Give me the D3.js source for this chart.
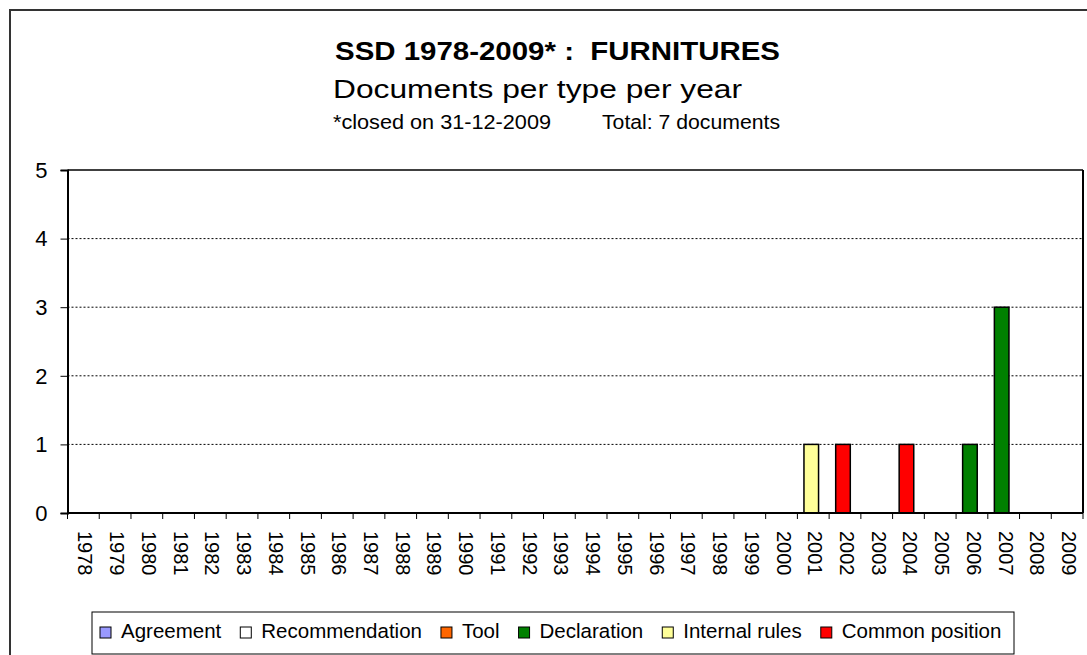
<!DOCTYPE html>
<html>
<head>
<meta charset="utf-8">
<script src="https://cdn.jsdelivr.net/npm/d3@7"></script>
<style>
  html, body { margin: 0; padding: 0; background: #fff; }
  svg { display: block; font-family: "Liberation Sans", Arial, sans-serif; }
  .pre { white-space: pre; }
</style>
</head>
<body>
<svg id="chart" width="1087" height="655"></svg>
<script>
// ---- data ----
const years = ["1978","1979","1980","1981","1982","1983","1984","1985","1986","1987","1988","1989","1990","1991","1992","1993","1994","1995","1996","1997","1998","1999","2000","2001","2002","2003","2004","2005","2006","2007","2008","2009"];
const seriesNames = ["Agreement","Recommendation","Tool","Declaration","Internal rules","Common position"];
const seriesColors = ["#9999FF","#FFFFFF","#FF6600","#008000","#FFFF99","#FF0000"];
const agreement      = [0,0,0,0,0,0,0,0,0,0,0,0,0,0,0,0,0,0,0,0,0,0,0,0,0,0,0,0,0,0,0,0];
const recommendation = [0,0,0,0,0,0,0,0,0,0,0,0,0,0,0,0,0,0,0,0,0,0,0,0,0,0,0,0,0,0,0,0];
const tool           = [0,0,0,0,0,0,0,0,0,0,0,0,0,0,0,0,0,0,0,0,0,0,0,0,0,0,0,0,0,0,0,0];
const declaration    = [0,0,0,0,0,0,0,0,0,0,0,0,0,0,0,0,0,0,0,0,0,0,0,0,0,0,0,0,1,3,0,0];
const internalRules  = [0,0,0,0,0,0,0,0,0,0,0,0,0,0,0,0,0,0,0,0,0,0,0,1,0,0,0,0,0,0,0,0];
const commonPosition = [0,0,0,0,0,0,0,0,0,0,0,0,0,0,0,0,0,0,0,0,0,0,0,0,1,0,1,0,0,0,0,0];
const yTicks = [0,1,2,3,4,5];
const titleText = "SSD 1978-2009* :  FURNITURES";
const subtitleText = "Documents per type per year";
const noteLeft = "*closed on 31-12-2009";
const noteRight = "Total: 7 documents";

const seriesValues = [agreement, recommendation, tool, declaration, internalRules, commonPosition];
const table = years.map((y, i) => {
  const row = { year: y };
  seriesNames.forEach((s, k) => row[s] = seriesValues[k][i]);
  return row;
});

// ---- layout ----
const svg = d3.select("#chart");
const plot = { left: 67.5, right: 1083, top: 170, bottom: 513 };

// outer frame
svg.append("rect").attr("x", 10).attr("y", 10).attr("width", 1100).attr("height", 700)
  .attr("fill", "#fff").attr("stroke", "#333").attr("stroke-width", 2);

// titles
svg.append("text").attr("class", "pre").attr("x", 557.5).attr("y", 59.5).attr("text-anchor", "middle")
  .attr("font-size", 25).attr("font-weight", "bold")
  .attr("textLength", 445).attr("lengthAdjust", "spacingAndGlyphs").text(titleText);
svg.append("text").attr("x", 537.5).attr("y", 98).attr("text-anchor", "middle")
  .attr("font-size", 25)
  .attr("textLength", 409).attr("lengthAdjust", "spacingAndGlyphs").text(subtitleText);
svg.append("text").attr("x", 333).attr("y", 129.3).attr("font-size", 19.5)
  .attr("textLength", 218).attr("lengthAdjust", "spacingAndGlyphs").text(noteLeft);
svg.append("text").attr("x", 602).attr("y", 129.3).attr("font-size", 19.5)
  .attr("textLength", 178).attr("lengthAdjust", "spacingAndGlyphs").text(noteRight);

// scales
const x = d3.scaleBand().domain(years).range([plot.left, plot.right]).paddingInner(0).paddingOuter(0);
const y = d3.scaleLinear().domain([0, 5]).range([plot.bottom, plot.top]);

// gridlines
svg.append("g").selectAll("line").data(yTicks.filter(t => t > 0 && t < 5)).join("line")
  .attr("x1", plot.left).attr("x2", plot.right)
  .attr("y1", d => y(d)).attr("y2", d => y(d))
  .attr("stroke", "#000").attr("stroke-width", 1).attr("stroke-dasharray", "2,2");

// bars (stacked)
const stack = d3.stack().keys(seriesNames)(table);
const barW = x.bandwidth() * 0.46;
const gBars = svg.append("g");
stack.forEach((layer, k) => {
  gBars.selectAll(null).data(layer.filter(d => d[1] - d[0] > 0)).join("rect")
    .attr("x", d => x(d.data.year) + x.bandwidth() / 2 - barW / 2 - 2)
    .attr("y", d => y(d[1]))
    .attr("width", barW)
    .attr("height", d => y(d[0]) - y(d[1]))
    .attr("fill", seriesColors[k])
    .attr("stroke", "#000").attr("stroke-width", 1.5);
});

// plot frame: top, right
svg.append("line").attr("x1", plot.left).attr("x2", plot.right).attr("y1", plot.top).attr("y2", plot.top)
  .attr("stroke", "#000").attr("stroke-width", 1.5);
svg.append("line").attr("x1", plot.right).attr("x2", plot.right).attr("y1", plot.top).attr("y2", plot.bottom)
  .attr("stroke", "#000").attr("stroke-width", 2);

// y axis
const yAxis = d3.axisLeft(y).tickValues(yTicks).tickSize(7).tickPadding(13).tickFormat(d3.format("d"));
const gy = svg.append("g").attr("transform", `translate(${plot.left},0)`).call(yAxis);
gy.select(".domain").attr("stroke", "#000").attr("stroke-width", 2);
gy.selectAll(".tick line").attr("stroke", "#000").attr("stroke-width", 1);
gy.selectAll(".tick text").attr("font-size", 22).attr("font-family", "Liberation Sans, Arial, sans-serif")
  .attr("fill", "#000").attr("dy", "0.33em");

// x axis: ticks at band boundaries
const gx = svg.append("g").attr("transform", `translate(0,${plot.bottom})`);
gx.append("line").attr("x1", plot.left).attr("x2", plot.right).attr("y1", 0).attr("y2", 0)
  .attr("stroke", "#000").attr("stroke-width", 2);
const boundaries = years.map(yv => x(yv)).concat([x(years[years.length - 1]) + x.bandwidth()]);
gx.selectAll(".xt").data(boundaries).join("line").attr("class", "xt")
  .attr("x1", d => d).attr("x2", d => d).attr("y1", 0).attr("y2", 6)
  .attr("stroke", "#000").attr("stroke-width", 1);
gx.selectAll(".xl").data(years).join("text").attr("class", "xl")
  .attr("transform", d => `translate(${x(d) + x.bandwidth() / 2},18) rotate(90)`)
  .attr("dy", "0.25em")
  .attr("font-size", 20).attr("fill", "#000")
  .text(d => d);

// legend
const lg = svg.append("g");
lg.append("rect").attr("x", 92).attr("y", 612).attr("width", 922).attr("height", 42)
  .attr("fill", "#fff").attr("stroke", "#000").attr("stroke-width", 1);
let cx = 100;
seriesNames.forEach((s, k) => {
  lg.append("rect").attr("x", cx).attr("y", 627).attr("width", 11).attr("height", 11)
    .attr("fill", seriesColors[k]).attr("stroke", "#000").attr("stroke-width", 1);
  const t = lg.append("text").attr("x", cx + 21).attr("y", 637.5).attr("font-size", 20.5).attr("fill", "#000").text(s);
  cx = cx + 21 + t.node().getComputedTextLength() + 19;
});
</script>
</body>
</html>
